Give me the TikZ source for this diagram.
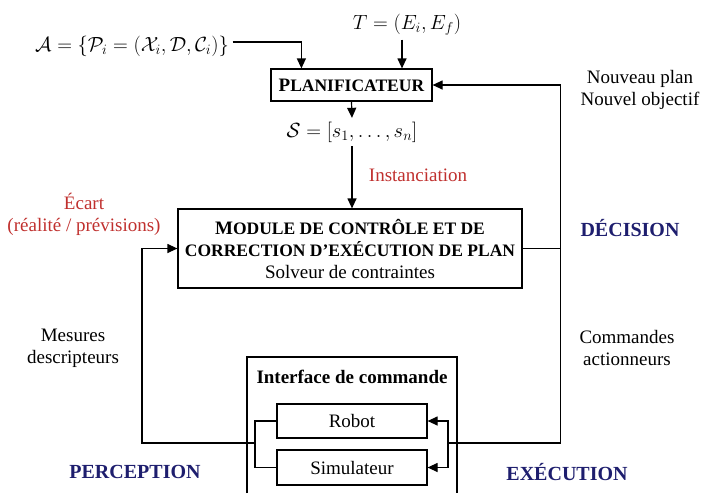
\documentclass[tikz,border=0pt]{standalone}
\usepackage{fix-cm}
\usepackage{fontspec}
\setmainfont{Liberation Serif}
\usepackage{tikz}
\usetikzlibrary{arrows.meta}
\definecolor{DiagRed}{HTML}{C0302E}
\definecolor{DiagNavy}{HTML}{1E1E6E}
\newcommand{\petitcap}[1]{{\fontsize{17.5}{22}\selectfont #1}}

\begin{document}
\begin{tikzpicture}[x=1pt,y=-1pt,font=\fontsize{19}{22}\selectfont,line width=1.2pt,
  bloc/.style={draw,rectangle,inner sep=2pt},
  fleche/.style={-{Triangle[length=10pt,width=9pt]}},
  rouge/.style={text=DiagRed,align=center},
  titre/.style={text=DiagNavy,font=\fontsize{20}{22}\selectfont\bfseries},
  legende/.style={align=center}]
\path[use as bounding box] (0,0) rectangle (704,493);
\node (labA) at (132,46) {\fontsize{20.5}{22}\selectfont$\mathcal{A}=\{\mathcal{P}_i=(\mathcal{X}_i,\mathcal{D},\mathcal{C}_i)\}$};
\node (labT) at (407,25) {\fontsize{20.5}{22}\selectfont$T=(E_i,E_f)$};
\node[bloc,minimum width=161pt,minimum height=32pt] (plan) at (351.5,85) {\textbf{P\petitcap{LANIFICATEUR}}};
\node (labS) at (352,132) {\fontsize{20.5}{22}\selectfont$\mathcal{S}=[s_1,\ldots,s_n]$};
\node[rouge] (inst) at (418,175) {Instanciation};
\node[bloc,minimum width=344pt,minimum height=79pt,align=center] (module) at (350,248.5) {\textbf{M\petitcap{ODULE DE CONTRÔLE ET DE}}\\\textbf{\petitcap{CORRECTION D’EXÉCUTION DE PLAN}}\\Solveur de contraintes};
\node[rouge] (ecart) at (84,214) {Écart\\(réalité / prévisions)};
\node[legende] (nouveau) at (640,90) {Nouveau plan\\Nouvel objectif};
\node[titre] (decision) at (630,228) {DÉCISION};
\node[legende] (mesures) at (73,348) {Mesures\\descripteurs};
\node[legende] (commandes) at (627,348) {Commandes\\actionneurs};
\draw (247,493) -- (247,357) -- (457,357) -- (457,493);
\node (iface) at (352,377) {\textbf{Interface de commande}};
\node[bloc,minimum width=150pt,minimum height=34pt] (robot) at (352,421) {Robot};
\node[bloc,minimum width=150pt,minimum height=35pt] (simu) at (352,467.5) {Simulateur};
\node[titre] (perception) at (135,472) {PERCEPTION};
\node[titre] (execution) at (567,472) {EXÉCUTION};
\coordinate (lbr) at (255,443);
\coordinate (rbr) at (448,443);
\draw[fleche] ([yshift=4pt]labA.east) -| ([xshift=31pt]plan.north west);
\draw[fleche] ([xshift=-5pt]labT.south) -- ([xshift=-5pt]labT.south |- plan.north);
\draw[fleche] (plan.south) -- (labS.north);
\draw[fleche] (labS.south) -- (labS.south |- module.north);
\draw[fleche] (module.east) -- ++(38,0) |- (plan.east);
\draw (module.east) -- ++(38,0) |- (rbr);
\draw[fleche] (rbr) |- (robot.east);
\draw[fleche] (rbr) |- (simu.east);
\draw (robot.west) -| (lbr);
\draw (simu.west) -| (lbr);
\draw[fleche] (lbr) -- ++(-113,0) |- (module.west);
\end{tikzpicture}
\end{document}
